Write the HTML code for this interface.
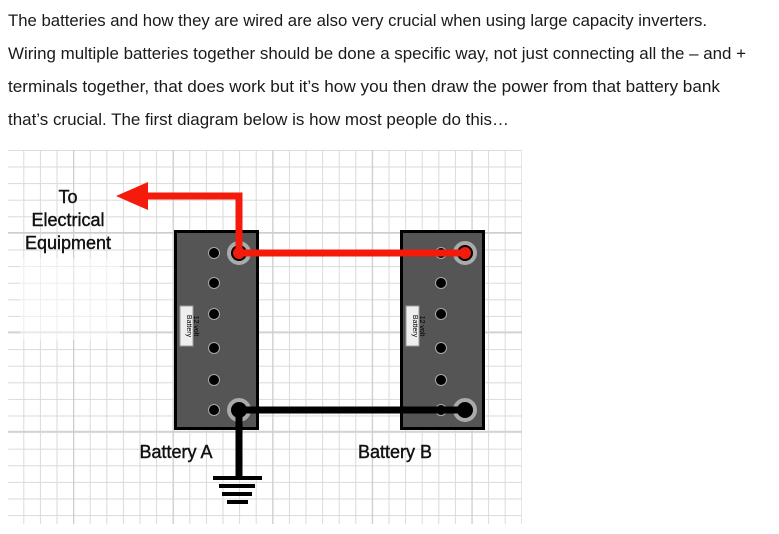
<!DOCTYPE html>
<html><head><meta charset="utf-8"><style>
html,body{margin:0;padding:0;background:#fff;width:779px;height:534px;overflow:hidden}
svg{display:block}
</style></head><body>
<svg width="779" height="534" viewBox="0 0 779 534" xmlns="http://www.w3.org/2000/svg">
<defs>
<pattern id="minor" x="6.7" y="0.5" width="16.6" height="16.6" patternUnits="userSpaceOnUse">
<path d="M0 0V16.6M0 0H16.6" stroke="#dadada" stroke-width="2" fill="none"/>
</pattern>
<pattern id="major" x="73" y="232" width="99.6" height="99.4" patternUnits="userSpaceOnUse">
<path d="M0 0V99.4M0 0H99.6" stroke="#cecece" stroke-width="2.5" fill="none"/>
</pattern>
</defs>
<g font-family="Liberation Sans, sans-serif" font-size="16.5" fill="#1a1a1a">
<text x="8" y="26" textLength="699" lengthAdjust="spacingAndGlyphs">The batteries and how they are wired are also very crucial when using large capacity inverters.</text>
<text x="8" y="59" textLength="738" lengthAdjust="spacingAndGlyphs">Wiring multiple batteries together should be done a specific way, not just connecting all the – and +</text>
<text x="8" y="92" textLength="712" lengthAdjust="spacingAndGlyphs">terminals together, that does work but it’s how you then draw the power from that battery bank</text>
<text x="8" y="125" textLength="501" lengthAdjust="spacingAndGlyphs">that’s crucial. The first diagram below is how most people do this…</text>
</g>
<rect x="8" y="150" width="514" height="374" fill="url(#minor)"/>
<rect x="8" y="150" width="514" height="374" fill="url(#major)"/>
<rect x="20" y="258" width="100" height="82" fill="#fff" opacity="0.5"/>
<rect x="175.5" y="231.5" width="82" height="197" fill="#555" stroke="#000" stroke-width="3"/>
<rect x="401.5" y="231.5" width="82" height="197" fill="#555" stroke="#000" stroke-width="3"/>
<g fill="#000" stroke="#aaa" stroke-width="1">
<circle cx="214" cy="253" r="5.5"/><circle cx="214" cy="283" r="5.5"/><circle cx="214" cy="314" r="5.5"/><circle cx="214" cy="348" r="5.5"/><circle cx="214" cy="380" r="5.5"/><circle cx="214" cy="410" r="5.5"/>
<circle cx="441" cy="253" r="5.5"/><circle cx="441" cy="283" r="5.5"/><circle cx="441" cy="314" r="5.5"/><circle cx="441" cy="348" r="5.5"/><circle cx="441" cy="380" r="5.5"/><circle cx="441" cy="410" r="5.5"/>
</g>
<g fill="#000" stroke="#aaa" stroke-width="4">
<circle cx="239" cy="253" r="10"/><circle cx="465" cy="253" r="10"/>
<circle cx="239" cy="410" r="10"/><circle cx="465" cy="410" r="10"/>
</g>
<rect x="180" y="306" width="13" height="40" fill="#eee" stroke="#999"/>
<rect x="406" y="306" width="13" height="40" fill="#eee" stroke="#999"/>
<g font-family="Liberation Sans, sans-serif" font-size="7" fill="#000">
<text transform="translate(194,326) rotate(90)" text-anchor="middle"><tspan x="0" y="0">12 volt</tspan><tspan x="0" y="7">Battery</tspan></text>
<text transform="translate(420,326) rotate(90)" text-anchor="middle"><tspan x="0" y="0">12 volt</tspan><tspan x="0" y="7">Battery</tspan></text>
</g>
<polyline points="465,253 239,253 239,196 145,196" fill="none" stroke="#f41a0c" stroke-width="7"/>
<circle cx="239" cy="253" r="6" fill="#f41a0c"/><circle cx="465" cy="253" r="6" fill="#f41a0c"/>
<polygon points="116,196 148,182 148,210" fill="#f41a0c"/>
<polyline points="465,410 239,410 239,478" fill="none" stroke="#000" stroke-width="7"/>
<circle cx="239" cy="410" r="6" fill="#000"/><circle cx="465" cy="410" r="6" fill="#000"/>
<g stroke="#000" stroke-width="4">
<line x1="213" y1="478" x2="262" y2="478"/>
<line x1="219" y1="486" x2="255" y2="486"/>
<line x1="222" y1="494" x2="252" y2="494"/>
<line x1="227" y1="502" x2="248" y2="502"/>
</g>
<g font-family="Liberation Sans, sans-serif" font-size="18" fill="#111" stroke="#111" stroke-width="0.4" text-anchor="middle">
<text x="68" y="203">To</text>
<text x="68" y="226">Electrical</text>
<text x="68" y="249">Equipment</text>
<text x="176" y="458">Battery A</text>
<text x="395" y="458">Battery B</text>
</g>
</svg>
</body></html>
